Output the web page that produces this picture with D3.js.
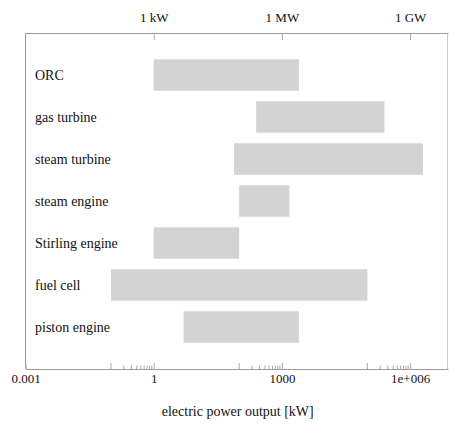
<!DOCTYPE html>
<html>
<head>
<meta charset="utf-8">
<script src="https://cdn.jsdelivr.net/npm/d3@7"></script>
<style>
  body { margin: 0; background: #fff; }
  svg { display: block; font-family: "Liberation Serif", "Times New Roman", serif; }
</style>
</head>
<body>
<svg id="chart" width="449" height="428"></svg>
<script>
// Power ranges of conversion technologies (electric output, kW)
const technologies = ["ORC", "gas turbine", "steam turbine", "steam engine", "Stirling engine", "fuel cell", "piston engine"];
const minPower = [1, 250, 75, 100, 1, 0.1, 5];
const maxPower = [2500, 250000, 2000000, 1500, 100, 100000, 2500];

// Axis ticks
const bottomTicks = [0.001, 1, 1000, 1e6];
const bottomTickLabels = ["0.001", "1", "1000", "1e+006"];
const topTicks = [1, 1000, 1e6];
const topTickLabels = ["1 kW", "1 MW", "1 GW"];
const xDomain = [0.001, 7.7e6];

const svg = d3.select("#chart");
const plotLeft = 25.5, plotRight = 448, plotTop = 33, plotBottom = 369;

const x = d3.scaleLog().domain(xDomain).range([plotLeft, plotRight]);
const y = d3.scalePoint().domain(technologies).range([plotTop, plotBottom]).padding(1);
const barH = y.step() * 0.75;

const axisColor = "#9a9a9a";
const textColor = "#111";

// bars
svg.append("g").selectAll("rect")
  .data(technologies)
  .join("rect")
  .attr("x", (d, i) => x(minPower[i]))
  .attr("width", (d, i) => x(maxPower[i]) - x(minPower[i]))
  .attr("y", d => y(d) - barH / 2)
  .attr("height", barH)
  .attr("fill", "#d3d3d3");

// category labels inside the plot
svg.append("g").selectAll("text")
  .data(technologies)
  .join("text")
  .attr("x", 35)
  .attr("y", d => y(d) + 4.5)
  .attr("font-size", 14)
  .attr("fill", textColor)
  .text(d => d);

// side borders
svg.append("line").attr("x1", plotLeft).attr("x2", plotLeft).attr("y1", plotTop).attr("y2", plotBottom)
  .attr("stroke", axisColor);
svg.append("line").attr("x1", plotRight - 0.5).attr("x2", plotRight - 0.5).attr("y1", plotTop).attr("y2", plotBottom)
  .attr("stroke", "#c8c8c8");

// top axis (unit labels)
const topAxis = svg.append("g")
  .attr("transform", `translate(0,${plotTop})`)
  .call(d3.axisTop(x).tickValues(topTicks)
    .tickFormat((d, i) => topTickLabels[i])
    .tickSizeInner(-7).tickSizeOuter(0).tickPadding(11));

// bottom axis (numeric labels)
const bottomAxis = svg.append("g")
  .attr("transform", `translate(0,${plotBottom})`)
  .call(d3.axisBottom(x).tickValues(bottomTicks)
    .tickFormat((d, i) => bottomTickLabels[i])
    .tickSizeInner(-6).tickSizeOuter(0).tickPadding(5));

// minor ticks in the decade below each labelled value
const minorTicks = [];
topTicks.forEach(m => { for (let k = 1; k <= 9; k++) minorTicks.push(m * k / 10); });
svg.append("g")
  .attr("transform", `translate(0,${plotBottom})`)
  .selectAll("line")
  .data(minorTicks)
  .join("line")
  .attr("x1", d => x(d)).attr("x2", d => x(d))
  .attr("y1", 0)
  .attr("y2", (d, i) => (i % 9 === 0 ? -6 : -3.5))
  .attr("stroke", "#aaa");

[topAxis, bottomAxis].forEach(g => {
  g.select(".domain").attr("stroke", axisColor);
  g.selectAll(".tick line").attr("stroke", "#aaa");
  g.selectAll(".tick text").attr("font-size", 13).attr("fill", textColor)
    .attr("font-family", "Liberation Serif, Times New Roman, serif");
});

// axis title
svg.append("text")
  .attr("x", (plotLeft + plotRight) / 2 + 1)
  .attr("y", 416)
  .attr("text-anchor", "middle")
  .attr("font-size", 14)
  .attr("fill", textColor)
  .text("electric power output [kW]");
</script>
</body>
</html>
